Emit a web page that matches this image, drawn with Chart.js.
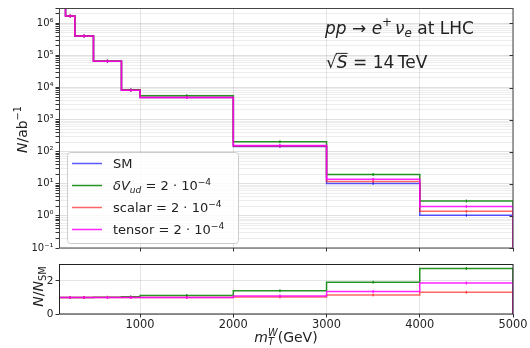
<!DOCTYPE html>
<html><head><meta charset="utf-8">
<script src="https://cdn.jsdelivr.net/npm/chart.js@4.4.0/dist/chart.umd.min.js"></script>
<style>
html,body{margin:0;padding:0;background:#fff;}
#wrap{position:relative;width:530px;height:348px;overflow:hidden;}
#top{position:absolute;left:0;top:0;}
#bot{position:absolute;left:0;top:256px;}
</style></head><body>
<div id="wrap"><canvas id="top" width="530" height="256"></canvas><canvas id="bot" width="530" height="92"></canvas></div>
<script>
// ---------------- data ----------------
const binEdges = [130, 200, 300, 500, 800, 1000, 2000, 3000, 4000, 5000];
const binCenters = [250, 400, 650, 900, 1500, 2500, 3500, 4500];
const smCounts     = [6e6, 1.68e6, 4.0e5, 6.6e4, 8.2e3, 4.9e3, 145, 10.2, 1.05];
const dVudCounts   = [6e6, 1.68e6, 4.0e5, 6.7e4, 8.5e3, 5.5e3, 203, 19.4, 2.89];
const scalarCounts = [6e6, 1.68e6, 4.0e5, 6.6e4, 8.2e3, 4.9e3, 150, 11.7, 1.39];
const tensorCounts = [6e6, 1.68e6, 4.0e5, 6.6e4, 8.2e3, 4.9e3, 157, 13.9, 1.96];
const dVudRatio   = [1.0, 1.0, 1.0, 1.01, 1.04, 1.12, 1.40, 1.91, 2.75];
const scalarRatio = [1.0, 1.0, 1.0, 1.0, 1.0, 1.0, 1.03, 1.15, 1.32];
const tensorRatio = [1.0, 1.0, 1.0, 1.0, 1.0, 1.0, 1.08, 1.36, 1.87];
const xTickValues = [1000, 2000, 3000, 4000, 5000];
const yTickExponents = [-1, 0, 1, 2, 3, 4, 5, 6];
const ratioTickValues = [0, 2];
const seriesNames = ['SM', 'dVud', 'scalar', 'tensor'];
const ratioSeriesNames = ['dVud', 'scalar', 'tensor'];

// ---------------- styles ----------------
const colors = {
  SM: 'rgba(0,0,255,0.65)',
  dVud: 'rgba(0,128,0,0.85)',
  scalar: 'rgba(255,0,0,0.6)',
  tensor: 'rgba(255,0,255,0.85)'
};
const drawOrder = {SM: 3, dVud: 2, scalar: 1, tensor: 0};
const FONT = '"DejaVu Sans", "Liberation Sans", sans-serif';

Chart.defaults.font.family = FONT;
Chart.defaults.color = '#222';
Chart.defaults.animation = false;

function stepPoints(vals, floor) {
  const pts = vals.map((v, i) => ({x: binEdges[i], y: v}));
  pts.push({x: binEdges[binEdges.length - 1], y: vals[vals.length - 1]});
  pts.push({x: binEdges[binEdges.length - 1], y: floor});
  return pts;
}
function markPoints(vals) {
  return binCenters.map((c, i) => ({x: c, y: vals[i + 1]}));
}
const supMap = {'-': '\u207B', '0': '\u2070', '1': '\u00B9', '2': '\u00B2', '3': '\u00B3', '4': '\u2074', '5': '\u2075', '6': '\u2076', '7': '\u2077', '8': '\u2078', '9': '\u2079'};
function sup(s) { return String(s).split('').map(c => supMap[c] || c).join(''); }

function makeDatasets(names, valsList, floor) {
  const ds = [];
  names.forEach((n, k) => {
    ds.push({
      label: n, data: stepPoints(valsList[k], floor), stepped: 'before',
      borderColor: colors[n], backgroundColor: colors[n], borderWidth: 1.5,
      pointRadius: 0, fill: false, order: drawOrder[n]
    });
    ds.push({
      label: n + '_err', data: markPoints(valsList[k]), showLine: false,
      pointStyle: 'line', rotation: 90, pointRadius: 1.5, pointHoverRadius: 1.5,
      borderColor: colors[n], backgroundColor: colors[n], pointBorderWidth: 1.2,
      order: drawOrder[n]
    });
  });
  return ds;
}

// ---------------- rich text helper ----------------
function fontStr(size, it) { return (it ? 'italic ' : '') + size + 'px ' + FONT; }
function layoutRich(ctx, runs, size) {
  let w = 0; const items = [];
  let pendingW = 0;
  runs.forEach(r => {
    const s = (r.sub || r.sup) ? size * 0.7 : size;
    ctx.font = fontStr(s, r.it);
    const tw = ctx.measureText(r.t).width + (r.gap || 0);
    items.push({r, s, x: w, w: tw});
    if (r.stack) {
      pendingW = Math.max(pendingW, tw);
      if (r.stackEnd) { w += pendingW; pendingW = 0; }
    } else {
      w += tw;
    }
  });
  return {items, w};
}
function drawRich(ctx, runs, x, y, size, align, color) {
  const L = layoutRich(ctx, runs, size);
  const x0 = align === 'center' ? x - L.w / 2 : (align === 'right' ? x - L.w : x);
  ctx.fillStyle = color || '#222';
  ctx.textBaseline = 'alphabetic';
  ctx.textAlign = 'left';
  L.items.forEach(it => {
    const r = it.r;
    ctx.font = fontStr(it.s, r.it);
    const dy = r.sub ? size * 0.22 : (r.sup ? -size * 0.42 : 0);
    ctx.fillText(r.t, x0 + it.x, y + dy);
    if (r.ov) {
      ctx.save();
      ctx.strokeStyle = color || '#222';
      ctx.lineWidth = 1;
      ctx.beginPath();
      ctx.moveTo(x0 + it.x - 1, y - size * 0.86);
      ctx.lineTo(x0 + it.x + it.w, y - size * 0.86);
      ctx.stroke();
      ctx.restore();
    }
  });
  return L.w;
}

// ---------------- plugins ----------------
const framePlugin = {
  id: 'frame',
  afterDraw(chart, args, opts) {
    const a = chart.chartArea, ctx = chart.ctx;
    ctx.save();
    ctx.strokeStyle = opts.color || '#333';
    ctx.lineWidth = 1;
    ctx.strokeRect(Math.round(a.left) + 0.5, Math.round(a.top) + 0.5, Math.round(a.right - a.left) - 1 + 0.5, Math.round(a.bottom - a.top) - 0.5);
    if (opts.rightTicks) {
      const ys = chart.scales.y;
      ctx.strokeStyle = '#333';
      opts.rightTicks.forEach(v => {
        const py = Math.round(ys.getPixelForValue(v)) + 0.5;
        ctx.beginPath(); ctx.moveTo(a.right - 3.5, py); ctx.lineTo(a.right, py); ctx.stroke();
      });
    }
    ctx.restore();
  }
};

const topTextPlugin = {
  id: 'topText',
  afterDraw(chart) {
    const ctx = chart.ctx;
    ctx.save();
    ctx.save();
    ctx.translate(27, 129.5);
    ctx.rotate(-Math.PI / 2);
    drawRich(ctx, [{t: 'N', it: 1}, {t: '/ab'}, {t: '\u22121', sup: 1}], 0, 0, 14, 'center');
    ctx.restore();
    drawRich(ctx, [{t: 'pp', it: 1}, {t: ' \u2192 '}, {t: 'e', it: 1}, {t: '+', sup: 1, gap: 3}, {t: '\u03BD', it: 1}, {t: 'e', it: 1, sub: 1}, {t: ' at LHC'}], 325, 33.5, 17, 'left');
    drawRich(ctx, [{t: '\u221A'}, {t: 'S', it: 1, ov: 1}, {t: ' = 14\u2009TeV'}], 326, 68, 17, 'left');
    const lx = 67, ly = 152, lw = 171, lh = 91;
    ctx.beginPath();
    ctx.roundRect(lx + 0.5, ly + 0.5, lw, lh, 3);
    ctx.fillStyle = 'rgba(255,255,255,0.8)';
    ctx.fill();
    ctx.strokeStyle = '#cccccc';
    ctx.lineWidth = 1;
    ctx.stroke();
    const rows = [
      ['SM', [{t: 'SM'}]],
      ['dVud', [{t: '\u03B4V', it: 1}, {t: 'ud', it: 1, sub: 1}, {t: ' = 2 \u00B7 10'}, {t: '\u22124', sup: 1}]],
      ['scalar', [{t: 'scalar = 2 \u00B7 10'}, {t: '\u22124', sup: 1}]],
      ['tensor', [{t: 'tensor = 2 \u00B7 10'}, {t: '\u22124', sup: 1}]]
    ];
    rows.forEach((row, i) => {
      const cy = 163.5 + i * 22;
      ctx.strokeStyle = colors[row[0]];
      ctx.lineWidth = 1.5;
      ctx.beginPath(); ctx.moveTo(72, cy); ctx.lineTo(102, cy); ctx.stroke();
      drawRich(ctx, row[1], 113, cy + 4.7, 13, 'left');
    });
    ctx.restore();
  }
};

const botTextPlugin = {
  id: 'botText',
  afterDraw(chart) {
    const ctx = chart.ctx;
    ctx.save();
    ctx.save();
    ctx.translate(43, 30.5);
    ctx.rotate(-Math.PI / 2);
    drawRich(ctx, [{t: 'N', it: 1}, {t: '/'}, {t: 'N', it: 1}, {t: 'SM', sub: 1}], 0, 0, 14, 'center');
    ctx.restore();
    drawRich(ctx, [{t: 'm', it: 1}, {t: 'T', it: 1, sub: 1, stack: 1}, {t: 'W', it: 1, sup: 1, stack: 1, stackEnd: 1}, {t: '(GeV)'}], 286, 86, 14, 'center');
    ctx.restore();
  }
};

// ---------------- top chart ----------------
const logTicks = [];
yTickExponents.forEach(e => {
  for (let m = 1; m <= 9; m++) {
    const v = Number((m * Math.pow(10, e)).toPrecision(6));
    if (v >= 0.1 && v <= 3e6) logTicks.push(v);
  }
});
function isDecade(v) { const e = Math.log10(v); return Math.abs(e - Math.round(e)) < 1e-6; }

new Chart(document.getElementById('top'), {
  type: 'line',
  data: {datasets: makeDatasets(seriesNames, [smCounts, dVudCounts, scalarCounts, tensorCounts], 1e-3)},
  options: {
    responsive: false, devicePixelRatio: 1,
    layout: {padding: {top: 7, right: 17, left: 0, bottom: 0}},
    plugins: {legend: {display: false}, tooltip: {enabled: false},
      frame: {color: '#444', rightTicks: yTickExponents.map(e => Math.pow(10, e))}},
    scales: {
      x: {
        type: 'linear', min: 130, max: 5000,
        afterBuildTicks(s) { s.ticks = xTickValues.map(v => ({value: v})); },
        afterFit(s) { s.height = 4; },
        ticks: {display: false, autoSkip: false},
        grid: {color: 'rgba(0,0,0,0.1)', tickColor: '#333', tickLength: 3.5, drawTicks: true},
        border: {display: false}
      },
      y: {
        type: 'logarithmic', min: 0.1, max: 3e6,
        afterBuildTicks(s) { s.ticks = logTicks.map(v => ({value: v, major: isDecade(v)})); },
        afterFit(s) { s.width = 59; },
        ticks: {
          autoSkip: false, padding: 2, font: {size: 10}, color: '#222',
          callback(v) { return isDecade(v) ? '10' + sup(Math.round(Math.log10(v))) : ''; }
        },
        grid: {
          color: c => (c.tick && isDecade(c.tick.value)) ? 'rgba(0,0,0,0.12)' : 'rgba(0,0,0,0.07)',
          tickColor: '#333', tickLength: 3.5
        },
        border: {display: false}
      }
    }
  },
  plugins: [framePlugin, topTextPlugin]
});

// ---------------- ratio chart ----------------
new Chart(document.getElementById('bot'), {
  type: 'line',
  data: {datasets: makeDatasets(ratioSeriesNames, [dVudRatio, scalarRatio, tensorRatio], -1)},
  options: {
    responsive: false, devicePixelRatio: 1,
    layout: {padding: {top: 3, right: 17, left: 0, bottom: 0}},
    plugins: {legend: {display: false}, tooltip: {enabled: false}, frame: {color: '#222'}},
    scales: {
      x: {
        type: 'linear', min: 130, max: 5000,
        afterBuildTicks(s) { s.ticks = xTickValues.map(v => ({value: v})); },
        afterFit(s) { s.height = 34; },
        ticks: {autoSkip: false, maxRotation: 0, padding: 1, font: {size: 11.4}, color: '#222',
          callback(v) { return String(v); }},
        grid: {color: 'rgba(0,0,0,0.1)', tickColor: '#333', tickLength: 3.5},
        border: {display: false}
      },
      y: {
        type: 'linear', min: 0, max: 3,
        afterBuildTicks(s) { s.ticks = ratioTickValues.map(v => ({value: v})); },
        afterFit(s) { s.width = 59; },
        ticks: {autoSkip: false, padding: 2, font: {size: 10.5}, color: '#222'},
        grid: {color: 'rgba(0,0,0,0.1)', tickColor: '#333', tickLength: 3.5},
        border: {display: false}
      }
    }
  },
  plugins: [framePlugin, botTextPlugin]
});
</script>
</body></html>
